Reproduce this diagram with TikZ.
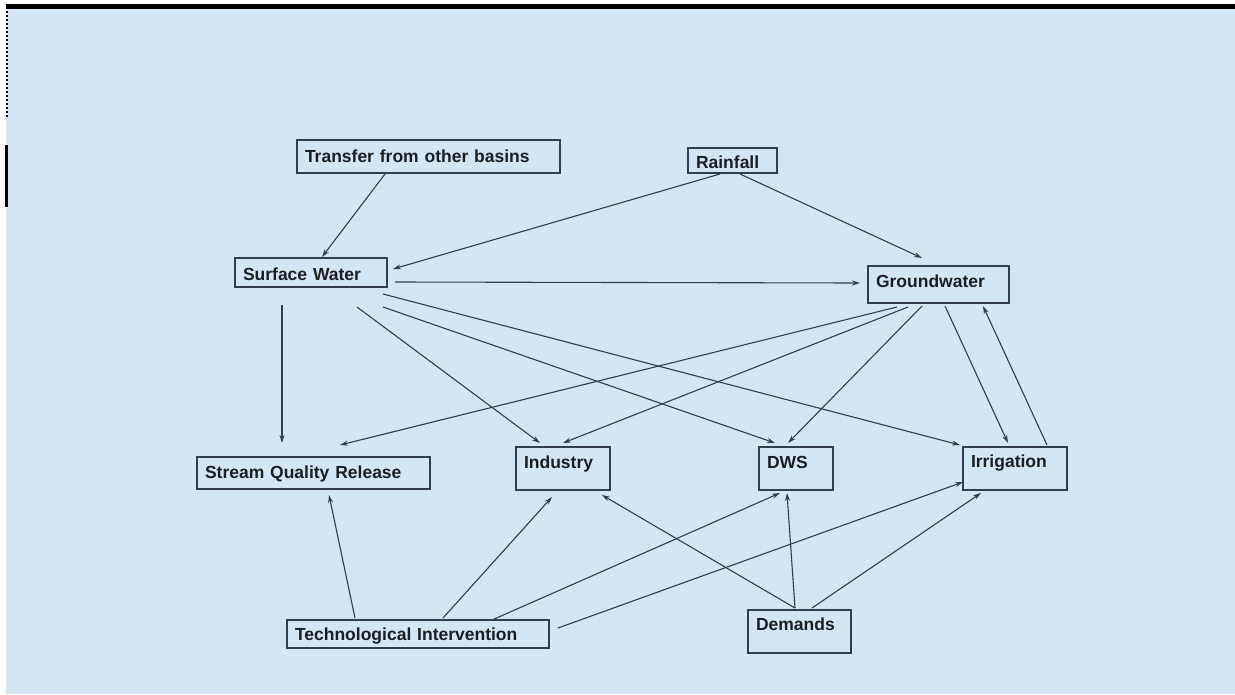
\documentclass[tikz,border=0pt]{standalone}
\usepackage{fontspec}
\usetikzlibrary{arrows.meta,calc}
\newfontfamily\arialfont{Liberation Sans}
\definecolor{bgblue}{RGB}{212,230,243}
\definecolor{edgegray}{RGB}{52,62,74}
\definecolor{txtgray}{RGB}{28,30,34}

\begin{document}
\begin{tikzpicture}[x=1pt,y=-1pt,
    blk/.style={draw=edgegray, line width=1.4pt, anchor=north west, outer sep=0pt,
      inner xsep=8pt, inner ysep=0pt, align=left, text=txtgray,
      font=\arialfont\bfseries\fontsize{17.5pt}{20pt}\selectfont},
    con/.style={draw=edgegray, line width=1.1pt, -{Stealth[length=8pt,width=5pt]}}]
    % page background
    \fill[white] (0,0) rectangle (1235,694);
    \fill[bgblue] (6,9) rectangle (1235,694);
    \fill[black] (6,4) rectangle (1235,9);
    \draw[black, line width=2pt, dotted] (7,11) -- (7,118);
    \fill[black] (5,145) rectangle (8,207);
    \useasboundingbox (0,0) rectangle (1235,694);

    % boxes
    \node[blk, text width=247pt, text height=22pt, text depth=11pt] (tr) at (297,140) {Transfer from other basins};
    \node[blk, text width=73pt, text height=20pt, text depth=5pt] (rain) at (688,148) {Rainfall};
    \node[blk, text width=136pt, text height=22pt, text depth=7pt] (sw) at (235,258) {Surface Water};
    \node[blk, text width=125pt, text height=21pt, text depth=16pt] (gw) at (868,266) {Groundwater};
    \node[blk, text width=217pt, text height=21pt, text depth=11pt] (sqr) at (197,457) {Stream Quality Release};
    \node[blk, text width=78pt, text height=21pt, text depth=22pt] (ind) at (516,447) {Industry};
    \node[blk, text width=58pt, text height=21pt, text depth=22pt] (dws) at (759,447) {DWS};
    \node[blk, text width=88pt, text height=20pt, text depth=23pt] (irr) at (963,447) {Irrigation};
    \node[blk, text width=246pt, text height=20pt, text depth=8pt] (ti) at (287,620) {Technological Intervention};
    \node[blk, text width=87pt, text height=20pt, text depth=23pt] (dem) at (748,610) {Demands};

    % sources
    \draw[con] ($(tr.south west)+(88,1)$) -- ($(sw.north west)+(87,-1)$);
    \draw[con] ($(rain.south west)+(32,1)$) -- ($(sw.north east)+(6,11)$);
    \draw[con] ($(rain.south west)+(52,1)$) -- ($(gw.north west)+(54,-8)$);

    % surface water
    \draw[con] ($(sw.north east)+(8,24)$) -- ($(gw.north west)+(-8,17)$);
    \draw[con] ($(sw.south west)+(47,18)$) -- ($(sqr.north west)+(85,-14)$);
    \draw[con] ($(sw.south west)+(122,20)$) -- ($(ind.north west)+(24,-4)$);
    \draw[con] ($(sw.south east)+(-4,20)$) -- ($(dws.north west)+(16,-4)$);
    \draw[con] ($(sw.south east)+(-4,7)$) -- ($(irr.north west)+(-3,-2)$);

    % groundwater
    \draw[con] ($(gw.south west)+(29,4)$) -- ($(sqr.north west)+(143,-12)$);
    \draw[con] ($(gw.south west)+(40,4)$) -- ($(ind.north west)+(47,-4)$);
    \draw[con] ($(gw.south west)+(54,3)$) -- ($(dws.north west)+(29,-4)$);
    \draw[con] ($(gw.south west)+(77,3)$) -- ($(irr.north west)+(45,-4)$);
    \draw[con] ($(irr.north west)+(84,-2)$) -- ($(gw.south west)+(115,3)$);

    % technological intervention
    \draw[con] ($(ti.north west)+(68,-2)$) -- ($(sqr.south west)+(132,6)$);
    \draw[con] ($(ti.north west)+(156,-2)$) -- ($(ind.south west)+(36,7)$);
    \draw[con] ($(ti.north west)+(205,0)$) -- ($(dws.south west)+(21,3)$);
    \draw[con] ($(ti.north east)+(9,8)$) -- ($(irr.south west)+(0,-8)$);

    % demands
    \draw[con] ($(dem.north west)+(47,-2)$) -- ($(ind.south west)+(86,5)$);
    \draw[con] ($(dem.north west)+(47,-2)$) -- ($(dws.south west)+(28,3)$);
    \draw[con] ($(dem.north west)+(64,-2)$) -- ($(irr.south west)+(18,3)$);
\end{tikzpicture}
\end{document}
